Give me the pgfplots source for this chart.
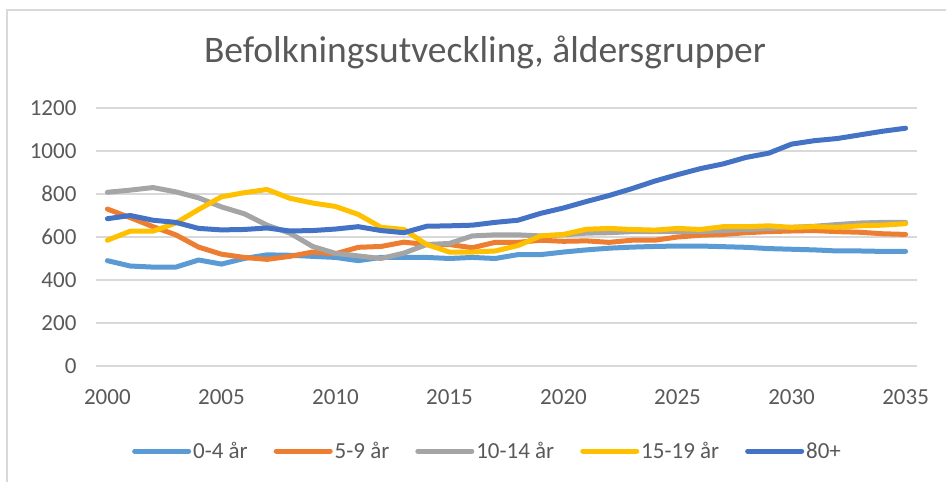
\documentclass[border=0pt]{standalone}
\usepackage{pgfplots}
\pgfplotsset{compat=1.18}
\usepackage{pgfplotstable}
\usepackage{fontspec}
\setmainfont{Carlito}
\definecolor{txt}{HTML}{595959}
\definecolor{gridc}{HTML}{D9D9D9}
\definecolor{cA}{HTML}{5B9BD5}
\definecolor{cB}{HTML}{ED7D31}
\definecolor{cC}{HTML}{A5A5A5}
\definecolor{cD}{HTML}{FFC000}
\definecolor{cE}{HTML}{4472C4}

\pgfplotstableread{
year a b c d e
2000 490 730 808 585 685
2001 465 690 818 627 700
2002 460 648 830 627 678
2003 460 610 810 665 668
2004 493 553 782 728 640
2005 474 520 740 787 633
2006 500 505 708 806 635
2007 517 496 655 821 642
2008 515 510 618 780 628
2009 510 530 556 758 630
2010 505 522 524 742 637
2011 490 552 512 705 648
2012 505 556 500 645 630
2013 505 576 525 635 620
2014 505 565 565 565 650
2015 500 565 570 530 652
2016 505 550 605 530 655
2017 500 575 610 535 668
2018 518 575 610 560 678
2019 518 585 605 605 710
2020 530 580 610 612 735
2021 540 582 618 636 765
2022 548 575 620 640 793
2023 553 585 625 635 825
2024 556 585 625 632 860
2025 558 600 625 640 890
2026 558 608 625 635 918
2027 555 612 630 648 940
2028 552 620 635 648 970
2029 546 625 640 652 990
2030 543 628 645 645 1032
2031 540 630 650 648 1048
2032 535 625 658 645 1058
2033 535 622 665 652 1075
2034 533 615 668 655 1092
2035 533 612 668 662 1106
}\datatable

\begin{document}
\begin{tikzpicture}
\path[use as bounding box] (0pt,0pt) rectangle (946pt,482pt);
\draw[gridc, line width=1.5pt] (7pt,0pt) -- (7pt,472pt) -- (946pt,472pt);
\node[txt, font=\fontsize{37.5}{45}\selectfont] at (485pt,430pt) {Befolkningsutveckling, åldersgrupper};
\begin{axis}[
  at={(96pt,116pt)}, anchor=south west,
  scale only axis, width=821pt, height=258pt,
  xmin=1999.5, xmax=2035.5, ymin=0, ymax=1200,
  xtick={2000,2005,...,2035}, ytick={0,200,...,1200},
  axis line style={draw=none},
  major tick length=0pt,
  ymajorgrids, grid style={gridc, line width=1.5pt},
  /pgf/number format/assume math mode=true,
  /pgf/number format/1000 sep={},
  tick label style={txt, font=\fontsize{23}{27}\selectfont},
  xticklabel style={yshift=-20pt},
  yticklabel style={xshift=-16pt},
  clip=false,
  every axis plot/.append style={line width=5pt, line cap=round, line join=round, mark=none},
  legend columns=5,
  legend style={at={(axis description cs:0.4769,-0.3295)}, anchor=center, draw=none, fill=none,
    font=\fontsize{23}{27}\selectfont, text=txt, inner sep=0pt,
    /tikz/every odd column/.append style={column sep=0pt},
    /tikz/every even column/.append style={column sep=24pt},
    nodes={inner sep=2pt}},
  legend image code/.code={\draw[#1, line cap=round] (0pt,0pt) -- (54pt,0pt);},
]
\addplot[cA] table[x=year, y=a] {\datatable};
\addlegendentry{0-4 år}
\addplot[cB] table[x=year, y=b] {\datatable};
\addlegendentry{5-9 år}
\addplot[cC] table[x=year, y=c] {\datatable};
\addlegendentry{10-14 år}
\addplot[cD] table[x=year, y=d] {\datatable};
\addlegendentry{15-19 år}
\addplot[cE] table[x=year, y=e] {\datatable};
\addlegendentry{80+}
\end{axis}
\end{tikzpicture}
\end{document}
